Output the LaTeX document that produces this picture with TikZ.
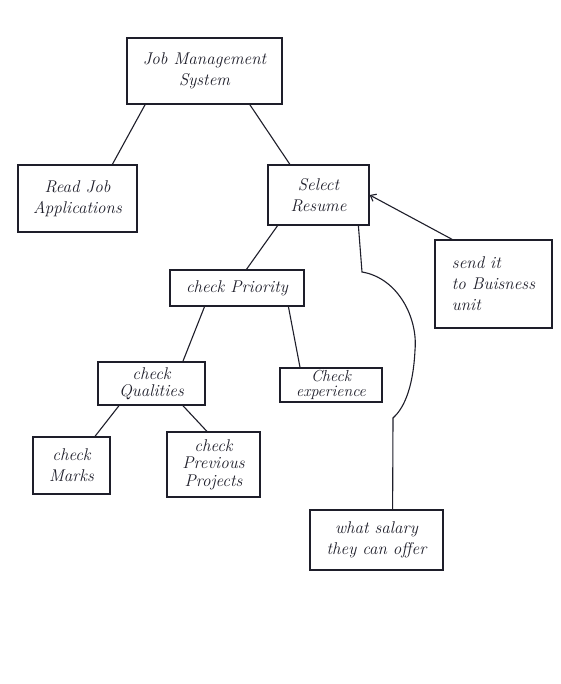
\documentclass[tikz,border=0pt]{standalone}
\usetikzlibrary{calc,arrows.meta}
\definecolor{ink}{HTML}{1E1E2A}
\begin{document}
\begin{tikzpicture}[x=1pt,y=-1pt,
  box/.style={draw=ink, line width=1.3pt, inner sep=0pt, align=center,
    text=ink, font=\fontsize{17}{21}\selectfont\itshape},
  tight/.style={font=\fontsize{17}{17.5}\selectfont\itshape},
  tighter/.style={font=\fontsize{16}{15.5}\selectfont\itshape},
  link/.style={draw=ink, line width=1.1pt}]
  \useasboundingbox[fill=white] (0,0) rectangle (560,684);

  % boxes
  \node[box, minimum width=155pt, minimum height=66pt] (jms)    at (204.5,71)  {Job Management\\System};
  \node[box, minimum width=119pt, minimum height=67pt] (read)   at (77.5,198.5) {Read Job\\Applications};
  \node[box, minimum width=101pt, minimum height=60pt] (select) at (318.5,195) {Select\\Resume};
  \node[box, minimum width=117pt, minimum height=88pt, align=left] (send) at (493.5,284) {send it\\to Buisness\\unit};
  \node[box, minimum width=134pt, minimum height=36pt] (prio)   at (237,288)   {check Priority};
  \node[box, tight, minimum width=107pt, minimum height=43pt] (qual) at (151.5,383.5) {check\\Qualities};
  \node[box, tighter, minimum width=102pt, minimum height=34pt] (exper) at (331,385) {Check\\experience};
  \node[box, minimum width=77pt,  minimum height=57pt] (marks)  at (71.5,465.5) {check\\Marks};
  \node[box, tight, minimum width=93pt, minimum height=65pt] (proj) at (213.5,464.5) {check\\Previous\\Projects};
  \node[box, minimum width=133pt, minimum height=60pt] (salary) at (376.5,540)  {what salary\\they can offer};

  % tree links
  \draw[link] ($(jms.south west)!0.12!(jms.south east)$) -- ($(read.north west)!0.79!(read.north east)$);
  \draw[link] ($(jms.south west)!0.79!(jms.south east)$) -- ($(select.north west)!0.22!(select.north east)$);
  \draw[link] ($(select.south west)!0.10!(select.south east)$) -- ($(prio.north west)!0.57!(prio.north east)$);
  \draw[link] ($(prio.south west)!0.26!(prio.south east)$) -- ($(qual.north west)!0.79!(qual.north east)$);
  \draw[link] ($(prio.south west)!0.88!(prio.south east)$) -- ($(exper.north west)!0.20!(exper.north east)$);
  \draw[link] ($(qual.south west)!0.20!(qual.south east)$) -- ($(marks.north west)!0.80!(marks.north east)$);
  \draw[link] ($(qual.south west)!0.79!(qual.south east)$) -- ($(proj.north west)!0.43!(proj.north east)$);

  % business unit link back to the resume box
  \draw[link, -{Straight Barb[length=5pt,width=8pt]}] ($(send.north west)!0.15!(send.north east)$) -- (select.east);

  % salary link arching round the experience box
  \coordinate (s1) at (362,272);
  \coordinate (s2) at (415,350);
  \coordinate (s3) at (393,418);
  \draw[link] ($(select.south west)!0.89!(select.south east)$) -- (s1)
    .. controls (398,278) and (418,318) .. (s2)
    .. controls (413,392) and (402,410) .. (s3)
    -- ($(salary.north west)!0.62!(salary.north east)$);
\end{tikzpicture}
\end{document}
